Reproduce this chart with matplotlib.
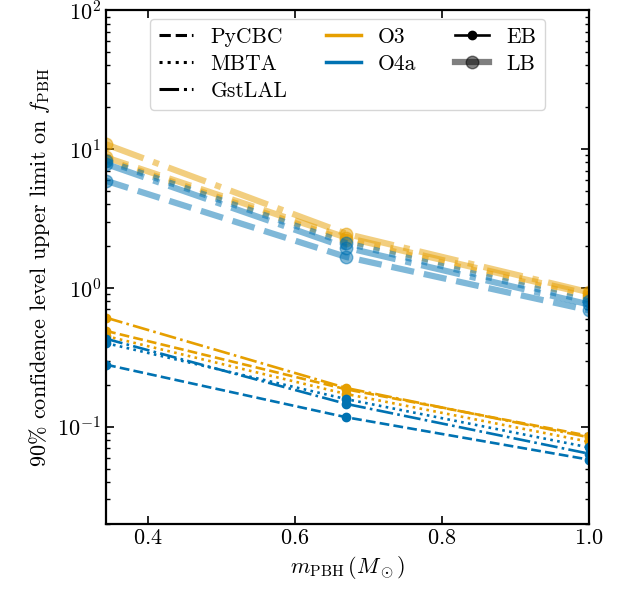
import numpy as np
import matplotlib
matplotlib.use('Agg')
import matplotlib.pyplot as plt
from matplotlib.lines import Line2D

plt.rcParams['font.family'] = 'serif'
plt.rcParams['font.serif'] = ['cmr10']
plt.rcParams['mathtext.fontset'] = 'cm'
plt.rcParams['axes.formatter.use_mathtext'] = True
plt.rcParams['axes.unicode_minus'] = False
plt.rcParams['font.size'] = 16

masses = [0.343, 0.67, 1.0]
pipelines = ['PyCBC', 'MBTA', 'GstLAL']
runs = ['O3', 'O4a']

# early binaries (EB)
eb = {
    ('O3', 'PyCBC'): [0.49, 0.186, 0.086],
    ('O3', 'MBTA'): [0.45, 0.172, 0.078],
    ('O3', 'GstLAL'): [0.61, 0.19, 0.084],
    ('O4a', 'PyCBC'): [0.28, 0.117, 0.058],
    ('O4a', 'MBTA'): [0.40, 0.158, 0.071],
    ('O4a', 'GstLAL'): [0.43, 0.146, 0.064],
}
# late binaries (LB)
lb = {
    ('O3', 'PyCBC'): [8.7, 2.3, 0.90],
    ('O3', 'MBTA'): [8.4, 2.2, 0.86],
    ('O3', 'GstLAL'): [10.8, 2.45, 0.93],
    ('O4a', 'PyCBC'): [5.9, 1.67, 0.69],
    ('O4a', 'MBTA'): [8.2, 2.1, 0.80],
    ('O4a', 'GstLAL'): [7.8, 1.95, 0.76],
}

colors = {'O3': '#E69F00', 'O4a': '#0072B2'}
styles = {'PyCBC': '--', 'MBTA': ':', 'GstLAL': '-.'}

fig = plt.figure(figsize=(6.28, 5.98), dpi=100)
ax = fig.add_axes([0.169, 0.124, 0.769, 0.859])

for run in runs:
    for p in pipelines:
        ax.plot(masses, lb[(run, p)], ls=styles[p], color=colors[run],
                lw=4.5, alpha=0.5, marker='o', ms=9)
        ax.plot(masses, eb[(run, p)], ls=styles[p], color=colors[run],
                lw=1.9, marker='o', ms=6)

ax.set_yscale('log')
ax.set_ylim(0.02, 100)
ax.set_xlim(masses[0], masses[-1])
ax.set_xticks([0.4, 0.6, 0.8, 1.0])
ax.set_xlabel(r'$m_{\rm PBH}\,(M_\odot)$')
ax.set_ylabel(r'90% confidence level upper limit on $f_{\rm PBH}$')
ax.tick_params(which='both', direction='in', top=True, right=True)
ax.tick_params(which='major', length=6, width=1.2)
ax.tick_params(which='minor', length=3, width=1)
for s in ax.spines.values():
    s.set_linewidth(1.6)

handles = [Line2D([], [], color='k', ls=styles[p], lw=2.2) for p in pipelines]
handles += [Line2D([], [], color=colors[r], lw=2.5) for r in runs]
handles += [Line2D([], [], color='k', lw=1.9, marker='o', ms=6),
            Line2D([], [], color='k', lw=4.5, alpha=0.5, marker='o', ms=9)]
labels = pipelines + runs + ['EB', 'LB']
ax.legend(handles, labels, ncol=3, loc='upper center', columnspacing=1.8,
          fontsize=15.5, handlelength=1.6, labelspacing=0.35,
          borderaxespad=0.4)

fig.savefig('out.png', dpi=100)
